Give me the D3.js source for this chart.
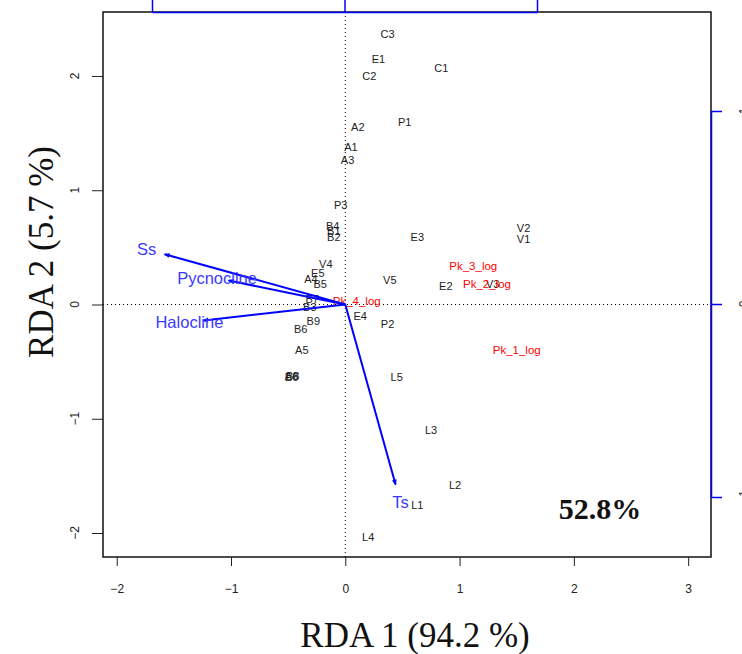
<!DOCTYPE html>
<html>
<head>
<meta charset="utf-8">
<script src="https://cdn.jsdelivr.net/npm/d3@7"></script>
<style>
  html, body { margin: 0; padding: 0; background: #fff; }
  svg { display: block; }
</style>
</head>
<body>
<svg id="chart" width="742" height="654"></svg>
<script>
// Site scores (black labels)
var siteNames = ["C3", "E1", "C2", "C1", "A2", "P1", "A1", "A3", "P3", "B4", "B1", "B2", "E3",
  "V2", "V1", "V4", "E5", "A4", "B5", "V5", "V3", "E2", "B7", "B3", "E4", "P2", "B9", "B6",
  "A5", "A6", "B8", "E6", "L5", "L3", "L2", "L1", "L4"]
var siteX = [0.37, 0.29, 0.21, 0.84, 0.11, 0.52, 0.05, 0.02, -0.04, -0.11, -0.10, -0.10, 0.63,
  1.56, 1.56, -0.17, -0.24, -0.30, -0.22, 0.39, 1.29, 0.88, -0.29, -0.31, 0.13, 0.37, -0.28, -0.39,
  -0.38, -0.47, -0.46, -0.47, 0.45, 0.75, 0.96, 0.63, 0.20]
var siteY = [2.37, 2.15, 2.00, 2.07, 1.55, 1.60, 1.38, 1.26, 0.87, 0.69, 0.64, 0.59, 0.59,
  0.67, 0.57, 0.35, 0.27, 0.22, 0.18, 0.21, 0.18, 0.16, 0.05, -0.02, -0.10, -0.17, -0.15, -0.22,
  -0.40, -0.63, -0.63, -0.64, -0.64, -1.10, -1.58, -1.76, -2.04]

// Species scores (red labels)
var speciesNames = ["Pk_3_log", "Pk_2_log", "Pk_4_log", "Pk_1_log"]
var speciesX = [1.12, 1.24, 0.10, 1.50]
var speciesY = [0.34, 0.18, 0.03, -0.40]

// Environmental vectors (blue arrows)
var envNames = ["Ss", "Pycnocline", "Halocline", "Ts"]
var envX = [-1.58, -1.02, -1.24, 0.44]
var envY = [0.44, 0.21, -0.14, -1.575]

var xTicks = [-2, -1, 0, 1, 2, 3]
var yTicks = [-2, -1, 0, 1, 2]
var topTicks = [-1, 0, 1]
var rightTicks = [-1, 0, 1]

var xTitle = "RDA 1 (94.2 %)"
var yTitle = "RDA 2 (5.7 %)"
var note = "52.8%"

var svg = d3.select('#chart')
var box = { left: 103, right: 711, top: 12, bottom: 557 }

var x = d3.scaleLinear().domain([-2.12, 3.2]).range([box.left, box.right])
var y = d3.scaleLinear().domain([-2.21, 2.56]).range([box.bottom, box.top])
// secondary (blue) axes for the biplot arrows
var xb = d3.scaleLinear().domain([-1, 1]).range([152, 537])
var yb = d3.scaleLinear().domain([-1, 1]).range([497, 111])

var sans = 'Liberation Sans, Arial, Helvetica, sans-serif'
var serif = 'Liberation Serif, Times New Roman, serif'
var fmt = function(d) { return d < 0 ? '\u2212' + Math.abs(d) : d }

// dotted zero lines
svg.append('line')
  .attr('x1', box.left).attr('x2', box.right)
  .attr('y1', y(0)).attr('y2', y(0))
  .attr('stroke', '#000').attr('stroke-width', 1.2).attr('stroke-dasharray', '1,3')
svg.append('line')
  .attr('x1', x(0)).attr('x2', x(0))
  .attr('y1', box.top).attr('y2', box.bottom)
  .attr('stroke', '#000').attr('stroke-width', 1).attr('stroke-dasharray', '1,3')

// frame
svg.append('rect')
  .attr('x', box.left).attr('y', box.top)
  .attr('width', box.right - box.left).attr('height', box.bottom - box.top)
  .attr('fill', 'none').attr('stroke', '#111').attr('stroke-width', 1.5)

// bottom axis
var gx = svg.append('g').attr('transform', 'translate(0,' + box.bottom + ')')
  .call(d3.axisBottom(x).tickValues(xTicks).tickSize(9).tickPadding(18).tickFormat(fmt))
gx.select('.domain').remove()
gx.selectAll('line').attr('stroke', '#222')
gx.selectAll('text').attr('font-family', sans).attr('font-size', 12).attr('fill', '#222')

// left axis (labels rotated as in R)
var gy = svg.append('g').attr('transform', 'translate(' + box.left + ',0)')
  .call(d3.axisLeft(y).tickValues(yTicks).tickSize(11).tickFormat(''))
gy.select('.domain').remove()
gy.selectAll('line').attr('stroke', '#222')
svg.selectAll('.ylab').data(yTicks).enter().append('text')
  .attr('transform', function(d) { return 'translate(79,' + y(d) + ') rotate(-90)' })
  .attr('text-anchor', 'middle')
  .attr('font-family', sans).attr('font-size', 12).attr('fill', '#222')
  .text(fmt)

// blue top axis (its labels fall outside the picture)
var gt = svg.append('g').attr('transform', 'translate(0,' + box.top + ')')
  .call(d3.axisTop(xb).tickValues(topTicks).tickSize(12).tickSizeOuter(0).tickFormat(''))
gt.select('.domain').attr('stroke', '#0000ff').attr('stroke-width', 1.5)
gt.selectAll('line').attr('stroke', '#0000ff').attr('stroke-width', 1.5)

// blue right axis
var gr = svg.append('g').attr('transform', 'translate(' + box.right + ',0)')
  .call(d3.axisRight(yb).tickValues(rightTicks).tickSize(11).tickSizeOuter(0).tickFormat(''))
gr.select('.domain').attr('stroke', '#0000ff').attr('stroke-width', 1.5)
gr.selectAll('line').attr('stroke', '#0000ff').attr('stroke-width', 1.5)
svg.selectAll('.rlab').data(rightTicks).enter().append('text')
  .attr('transform', function(d) { return 'translate(748,' + yb(d) + ') rotate(-90)' })
  .attr('text-anchor', 'middle')
  .attr('font-family', sans).attr('font-size', 12).attr('fill', '#222')
  .text(fmt)

// site labels
svg.selectAll('.site').data(siteNames).enter().append('text')
  .attr('x', function(d, i) { return x(siteX[i]) })
  .attr('y', function(d, i) { return y(siteY[i]) })
  .attr('dy', '0.35em')
  .attr('text-anchor', 'middle')
  .attr('font-family', sans).attr('font-size', 11).attr('fill', '#222')
  .text(function(d) { return d })

// species labels
svg.selectAll('.sp').data(speciesNames).enter().append('text')
  .attr('x', function(d, i) { return x(speciesX[i]) })
  .attr('y', function(d, i) { return y(speciesY[i]) })
  .attr('dy', '0.35em')
  .attr('text-anchor', 'middle')
  .attr('font-family', sans).attr('font-size', 11.5).attr('fill', '#ff0000')
  .text(function(d) { return d })

// arrows
svg.append('defs').append('marker')
  .attr('id', 'head').attr('viewBox', '0 0 10 10')
  .attr('refX', 8).attr('refY', 5)
  .attr('markerWidth', 3).attr('markerHeight', 3)
  .attr('orient', 'auto')
  .append('path').attr('d', 'M0,1 L10,5 L0,9 Z').attr('fill', '#0000ff')

svg.selectAll('.arrow').data(envNames).enter().append('line')
  .attr('x1', x(0)).attr('y1', y(0))
  .attr('x2', function(d, i) { return x(envX[i]) })
  .attr('y2', function(d, i) { return y(envY[i]) })
  .attr('stroke', '#0000ff').attr('stroke-width', 2)
  .attr('marker-end', 'url(#head)')

svg.selectAll('.env').data(envNames).enter().append('text')
  .attr('x', function(d, i) { return x(envX[i] * 1.1) })
  .attr('y', function(d, i) { return y(envY[i] * 1.1) })
  .attr('dy', '0.35em')
  .attr('text-anchor', 'middle')
  .attr('font-family', sans).attr('font-size', 16.5).attr('fill', '#3a3aff')
  .text(function(d) { return d })

// annotation
svg.append('text')
  .attr('x', 600).attr('y', 519)
  .attr('text-anchor', 'middle')
  .attr('font-family', serif).attr('font-weight', 'bold').attr('font-size', 30)
  .attr('fill', '#111')
  .text(note)

// axis titles
svg.append('text')
  .attr('x', 415).attr('y', 647)
  .attr('text-anchor', 'middle')
  .attr('font-family', serif).attr('font-size', 35).attr('fill', '#111')
  .text(xTitle)
svg.append('text')
  .attr('transform', 'translate(53,252) rotate(-90)')
  .attr('text-anchor', 'middle')
  .attr('font-family', serif).attr('font-size', 35).attr('fill', '#111')
  .text(yTitle)
</script>
</body>
</html>
